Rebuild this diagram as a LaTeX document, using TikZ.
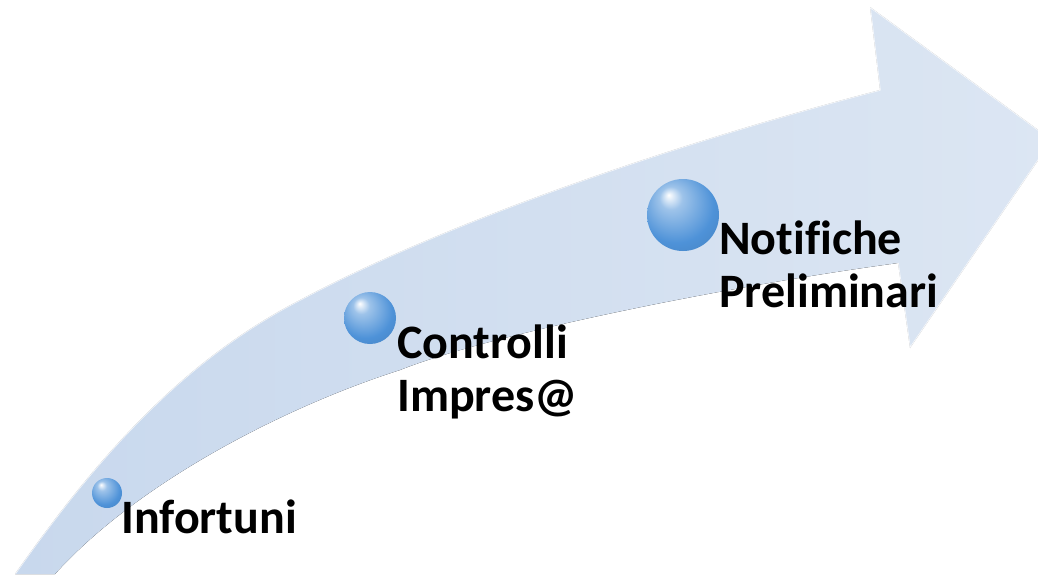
\documentclass[tikz,border=0pt]{standalone}
\usepackage{fontspec}
\setmainfont{Carlito}[Ligatures=NoCommon]
\definecolor{shaftblue}{RGB}{200,216,237}
\definecolor{headblue}{RGB}{220,230,243}
\definecolor{sphblue}{RGB}{78,146,216}
\pgfdeclareradialshading{glass}{\pgfpoint{-10bp}{14bp}}{%
  color(0bp)=(white);
  color(8bp)=(sphblue!55!white);
  color(26bp)=(sphblue);
  color(44bp)=(sphblue!85!black);
  color(50bp)=(sphblue!60!white)}
\tikzset{
  ball/.style={circle, inner sep=0pt, shading=glass},
  step label/.style={font=\fontsize{48}{53}\selectfont\bfseries, inner sep=0pt, align=left, anchor=base west}
}
\begin{document}
\begin{tikzpicture}[x=1pt, y=-1pt]
      \useasboundingbox (0,0) rectangle (1038,574);
      \clip (0,0) rectangle (1038,574);
      % curved arrow
      \fill[left color=shaftblue, right color=headblue]
        (15,574) .. controls (95,460) and (180,362) .. (300,300)
        .. controls (450,220) and (680,142) .. (880,90)
        -- (870,7) -- (1052,140) -- (910,348) -- (898,263)
        .. controls (728,286) and (490,334) .. (400,370)
        .. controls (290,405) and (140,480) .. (55,574) -- cycle;
      \draw[white, opacity=0.7, line width=1.5pt, line join=round]
        (15,574) .. controls (95,460) and (180,362) .. (300,300)
        .. controls (450,220) and (680,142) .. (880,90)
        -- (870,7) -- (1052,140) -- (910,348) -- (898,263);
      % spheres
      \node[ball, minimum size=30pt] (b0) at (107,493) {};
      \node[ball, minimum size=52pt] (b1) at (370,318) {};
      \node[ball, minimum size=72pt] (b2) at (683,215) {};
      % labels (base = last line)
      \node[step label] (l0) at (121,533) {Infortuni};
      \node[step label] (l1) at (397,411) {Controlli\\Impres@};
      \node[step label] (l2) at (719,307) {Notifiche\\Preliminari};
    \end{tikzpicture}
\end{document}
